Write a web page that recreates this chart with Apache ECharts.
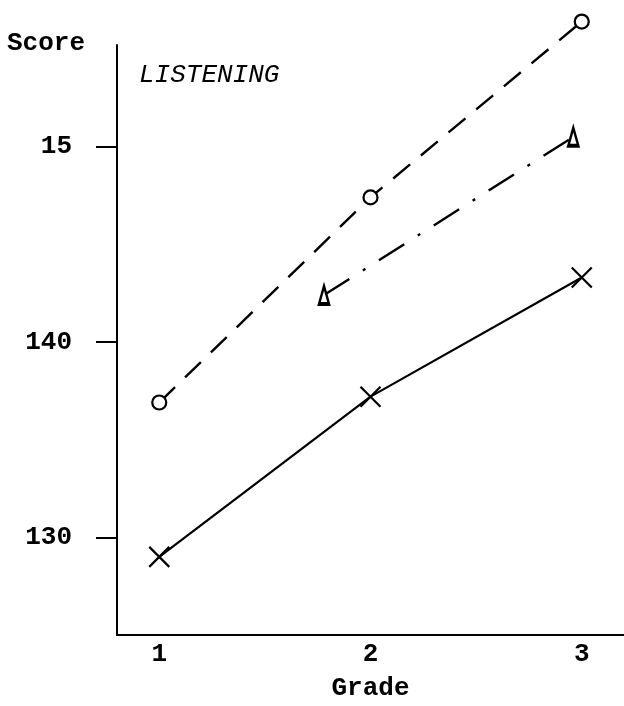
<!DOCTYPE html>
<html>
<head>
<meta charset="utf-8">
<script src="https://cdn.jsdelivr.net/npm/echarts@6/dist/echarts.min.js"></script>
<style>
html,body{margin:0;padding:0;background:#fff;}
#chart{width:624px;height:706px;}
</style>
</head>
<body>
<div id="chart"></div>
<script>
// Data
const grades = [1, 2, 3];
const circleScores = [136.9, 147.4, 156.4];
const crossScores = [129.0, 137.2, 143.3];
const triangleGrades = [1.78, 2.96];
const triangleScores = [142.4, 150.5];
const yTickValues = [130, 140, 150];
const yTickLabels = ['130', '140', '15'];
const xTickValues = [1, 2, 3];
const xTickLabels = ['1', '2', '3'];

const zip = (xs, ys) => xs.map((x, i) => [x, ys[i]]);
const FONT = '"Liberation Mono", "DejaVu Sans Mono", monospace';

const chart = echarts.init(document.getElementById('chart'));
chart.setOption({
  backgroundColor: '#fff',
  animation: false,
  grid: { left: 117, right: 0, top: 45, bottom: 69 },
  xAxis: {
    type: 'value', min: 0.8, max: 3.2,
    name: 'Grade', nameLocation: 'middle', nameGap: 40,
    nameTextStyle: { fontFamily: FONT, fontSize: 26, fontWeight: 'bold', color: '#000' },
    axisLine: { show: true, lineStyle: { color: '#000', width: 2 } },
    axisTick: { show: false },
    splitLine: { show: false },
    axisLabel: {
      customValues: xTickValues, margin: 6,
      fontFamily: FONT, fontSize: 26, fontWeight: 'bold', color: '#000',
      formatter: v => xTickLabels[xTickValues.indexOf(v)] ?? ''
    }
  },
  yAxis: {
    type: 'value', min: 125, max: 155.2,
    axisLine: { show: true, lineStyle: { color: '#000', width: 2 } },
    axisTick: { show: true, customValues: yTickValues, length: 21, inside: false, lineStyle: { color: '#000', width: 2 } },
    splitLine: { show: false },
    axisLabel: {
      customValues: yTickValues, margin: 45,
      fontFamily: FONT, fontSize: 26, fontWeight: 'bold', color: '#000',
      formatter: v => yTickLabels[yTickValues.indexOf(v)] ?? ''
    }
  },
  graphic: [
    { type: 'text', left: 7, top: 30, style: { text: 'Score', font: 'bold 26px ' + FONT, fill: '#000' } },
    { type: 'text', left: 139, top: 62, style: { text: 'LISTENING', font: 'italic 26px ' + FONT, fill: '#000' } }
  ],
  series: [
    {
      type: 'line', clip: false, data: zip(grades, circleScores),
      symbol: 'circle', symbolSize: 14,
      itemStyle: { color: '#fff', borderColor: '#000', borderWidth: 2.2 },
      lineStyle: { color: '#000', width: 2.4, type: [22, 14] }
    },
    {
      type: 'line', clip: false, data: zip(triangleGrades, triangleScores),
      symbol: 'triangle', symbolSize: [10, 18],
      itemStyle: { color: '#fff', borderColor: '#000', borderWidth: 3 },
      lineStyle: { color: '#000', width: 2.4, type: [30, 16, 3, 16] }
    },
    {
      type: 'line', clip: false, data: zip(grades, crossScores),
      symbol: 'path://M0,0L10,10M10,0L0,10', symbolSize: 20,
      itemStyle: { color: 'none', borderColor: '#000', borderWidth: 2.2 },
      lineStyle: { color: '#000', width: 2.2 }
    }
  ]
});
</script>
</body>
</html>
